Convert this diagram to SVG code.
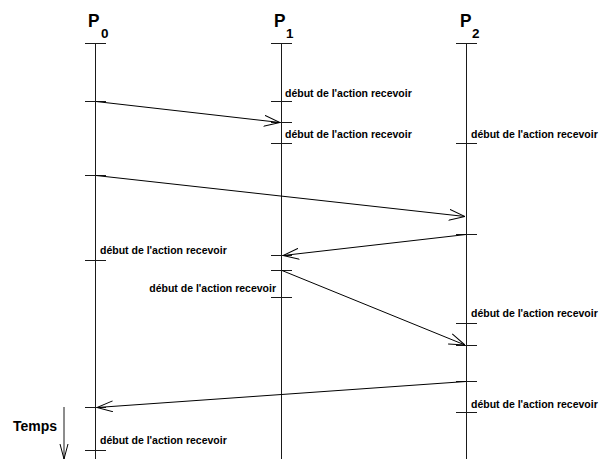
<svg xmlns="http://www.w3.org/2000/svg" width="600" height="459" viewBox="0 0 600 459">
  <style>
    .life { stroke: #1a1a1a; stroke-width: 1; fill: none; }
    .tick { stroke: #1a1a1a; stroke-width: 1; fill: none; }
    .msg { stroke: #000; stroke-width: 1; fill: none; marker-end: url(#open); }
    .lbl { font-family: "Liberation Sans", Arial, sans-serif; font-weight: bold; font-size: 10.5px; fill: #000; }
    .proc { font-family: "Liberation Sans", Arial, sans-serif; font-weight: bold; font-size: 19px; fill: #000; }
    .sub { font-family: "Liberation Sans", Arial, sans-serif; font-weight: bold; font-size: 13.5px; fill: #000; }
    .axis { font-family: "Liberation Sans", Arial, sans-serif; font-weight: bold; font-size: 14px; fill: #000; }
  </style>
  <defs>
    <marker id="open" viewBox="0 0 16 12" refX="16" refY="6" markerWidth="16" markerHeight="12" markerUnits="userSpaceOnUse" orient="auto">
      <path d="M0,0.5 L16,6 L0,11.5" fill="none" stroke="#000" stroke-width="1"/>
    </marker>
  </defs>
  <rect width="600" height="459" fill="#fff"/>

  <!-- process P0 -->
  <g id="p0">
    <text class="proc" x="88" y="27" textLength="11.5" lengthAdjust="spacingAndGlyphs">P</text>
    <text class="sub" x="101" y="38">0</text>
    <line class="life" x1="95.5" y1="43" x2="95.5" y2="459"/>
    <line class="tick" x1="85" y1="43.5" x2="106" y2="43.5"/>
    <line class="tick" x1="85" y1="101.5" x2="106" y2="101.5"/>
    <line class="tick" x1="85" y1="175.5" x2="106" y2="175.5"/>
    <line class="tick" x1="85" y1="260.5" x2="106" y2="260.5"/>
    <line class="tick" x1="85" y1="407.5" x2="106" y2="407.5"/>
    <line class="tick" x1="85" y1="450.5" x2="106" y2="450.5"/>
    <text class="lbl" x="100" y="254">début de l'action recevoir</text>
    <text class="lbl" x="100" y="444">début de l'action recevoir</text>
  </g>

  <!-- process P1 -->
  <g id="p1">
    <text class="proc" x="274" y="27" textLength="11.5" lengthAdjust="spacingAndGlyphs">P</text>
    <text class="sub" x="286" y="38">1</text>
    <line class="life" x1="281.5" y1="43" x2="281.5" y2="459"/>
    <line class="tick" x1="271" y1="43.5" x2="292" y2="43.5"/>
    <line class="tick" x1="271" y1="101.5" x2="292" y2="101.5"/>
    <line class="tick" x1="271" y1="122.5" x2="292" y2="122.5"/>
    <line class="tick" x1="271" y1="143.5" x2="292" y2="143.5"/>
    <line class="tick" x1="271" y1="255.5" x2="292" y2="255.5"/>
    <line class="tick" x1="271" y1="270.5" x2="292" y2="270.5"/>
    <line class="tick" x1="271" y1="297.5" x2="292" y2="297.5"/>
    <text class="lbl" x="285" y="97">début de l'action recevoir</text>
    <text class="lbl" x="285" y="138">début de l'action recevoir</text>
    <text class="lbl" x="276" y="292" text-anchor="end">début de l'action recevoir</text>
  </g>

  <!-- process P2 -->
  <g id="p2">
    <text class="proc" x="460" y="27" textLength="11.5" lengthAdjust="spacingAndGlyphs">P</text>
    <text class="sub" x="472" y="38">2</text>
    <line class="life" x1="466.5" y1="43" x2="466.5" y2="459"/>
    <line class="tick" x1="456" y1="43.5" x2="477" y2="43.5"/>
    <line class="tick" x1="456" y1="143.5" x2="477" y2="143.5"/>
    <line class="tick" x1="456" y1="234.5" x2="477" y2="234.5"/>
    <line class="tick" x1="456" y1="323.5" x2="477" y2="323.5"/>
    <line class="tick" x1="456" y1="345.5" x2="477" y2="345.5"/>
    <line class="tick" x1="456" y1="381.5" x2="477" y2="381.5"/>
    <line class="tick" x1="456" y1="412.5" x2="477" y2="412.5"/>
    <text class="lbl" x="471" y="138">début de l'action recevoir</text>
    <text class="lbl" x="471" y="317">début de l'action recevoir</text>
    <text class="lbl" x="471" y="408">début de l'action recevoir</text>
  </g>

  <!-- messages -->
  <g id="messages">
    <line class="msg" x1="96" y1="101.5" x2="280" y2="122.5"/>
    <line class="msg" x1="96" y1="175.5" x2="465" y2="216.5"/>
    <line class="msg" x1="466" y1="234.5" x2="283" y2="255.5"/>
    <line class="msg" x1="282" y1="270.5" x2="465" y2="345"/>
    <line class="msg" x1="466" y1="381.5" x2="97" y2="407.5"/>
  </g>

  <!-- time axis -->
  <g id="temps">
    <text class="axis" x="13" y="431">Temps</text>
    <line class="life" x1="64" y1="407" x2="64" y2="459"/>
    <path d="M60,444 L64,459 L68,444" fill="none" stroke="#000" stroke-width="1"/>
  </g>
</svg>
